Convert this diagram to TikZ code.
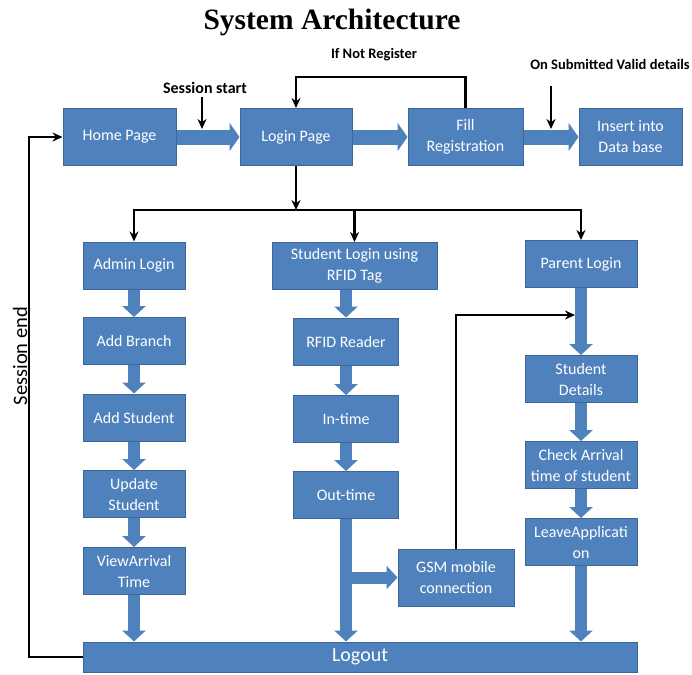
\documentclass[tikz,border=0pt]{standalone}
\usepackage{fontspec}
\setmainfont{Carlito}
\newfontfamily\titlefont{Liberation Serif}
\usetikzlibrary{arrows.meta}

\begin{document}
\begin{tikzpicture}[x=1pt,y=-1pt,
  box/.style={draw=boxline,fill=boxfill,line width=1pt,text=white,align=center,inner sep=0pt,
   font=\fontsize{16}{21}\selectfont},
  rowbox/.style={box,minimum width=113pt,minimum height=57pt},
  colbox/.style={box,minimum height=47pt},
  blk/.style={draw=boxfill,line width=12pt,-{Triangle[length=11pt,width=23pt]}},
  wideblk/.style={draw=boxfill,line width=15pt,-{Triangle[length=10pt,width=28pt]}},
  conn/.style={line width=2.2pt,-{Stealth[length=10pt,width=9pt]}},
  lbl/.style={font=\bfseries\fontsize{14.5}{17}\selectfont}]
  \definecolor{boxfill}{HTML}{4F81BD}
  \definecolor{boxline}{HTML}{3B6699}
  \fill [white] (0,0) rectangle (692,674);
  \useasboundingbox (0,0) rectangle (692,674);
  \node [font=\titlefont\bfseries\fontsize{29.5}{33}\selectfont] (title) at (332,22) {System Architecture};
  \node [lbl] (notreg) at (374,55) {If Not Register};
  \node [lbl] (valid) at (610,64) {On Submitted Valid details};
  \node [lbl,font=\bfseries\fontsize{16}{18}\selectfont] (sstart) at (205,88) {Session start};
  \node [rotate=90,font=\fontsize{20.5}{24}\selectfont] (send) at (20,356) {Session end};
  \node [rowbox] (home) at (119.5,137) {Home Page};
  \node [rowbox,minimum width=112pt] (login) at (296,137) {Login Page};
  \node [rowbox,minimum width=115pt] (fill) at (465.5,137) {Fill\\Registration};
  \node [rowbox,minimum width=103pt] (insert) at (630.5,137) {Insert into\\Data base};
  \node [colbox,minimum width=102pt] (admin) at (134,265.5) {Admin Login};
  \node [colbox,minimum width=102pt] (branch) at (134,341) {Add Branch};
  \node [colbox,minimum width=102pt] (addstu) at (134,417.5) {Add Student};
  \node [colbox,minimum width=102pt] (update) at (134,494) {Update\\Student};
  \node [colbox,minimum width=102pt] (view) at (134,571) {ViewArrival\\Time};
  \node [colbox,minimum width=165pt] (slogin) at (354.5,266) {Student Login using\\RFID Tag};
  \node [colbox,minimum width=105pt] (reader) at (346,341.5) {RFID Reader};
  \node [colbox,minimum width=105pt] (intime) at (346,419) {In-time};
  \node [colbox,minimum width=105pt] (outtime) at (346,495) {Out-time};
  \node [box,minimum width=116pt,minimum height=57pt] (gsm) at (456,577.5) {GSM mobile\\connection};
  \node [colbox,minimum width=112pt] (parent) at (581,264) {Parent Login};
  \node [colbox,minimum width=112pt] (details) at (581,379) {Student\\Details};
  \node [colbox,minimum width=112pt] (check) at (581,465) {Check Arrival\\time of student};
  \node [colbox,minimum width=112pt] (leave) at (581,542) {LeaveApplicati\\on};
  \node [box,minimum width=554pt,minimum height=30pt,font=\fontsize{20}{24}\selectfont] (logout) at (360,657) {Logout};
  \coordinate (ss) at (202,129);
  \coordinate (ot) at (551,86);
  \coordinate (ov) at (551,129);
  \coordinate (nr) at (296,77);
  \coordinate (split) at (296,210);
  \coordinate (gj) at (575,315);
  \coordinate (se) at (29,657);
  \draw [wideblk] (home) -- (login);
  \draw [wideblk] (login) -- (fill);
  \draw [wideblk] (fill) -- (insert);
  \draw [conn] (sstart.south -| ss) -- (ss);
  \draw [conn] (ot) -- (ov);
  \draw [conn] (fill) |- (nr) -- (login);
  \draw [conn] (login) -- (split);
  \draw [conn] (split) -| (admin);
  \draw [conn] (split) -| (slogin);
  \draw [conn] (split) -| (parent);
  \draw [blk] (admin) -- (branch);
  \draw [blk] (branch) -- (addstu);
  \draw [blk] (addstu) -- (update);
  \draw [blk] (update) -- (view);
  \draw [blk] (view.south) -- (view.south |- logout.north);
  \draw [blk] (reader.north |- slogin.south) -- (reader);
  \draw [blk] (reader) -- (intime);
  \draw [blk] (intime) -- (outtime);
  \draw [blk] (outtime.south) -- (outtime.south |- logout.north);
  \draw [blk] (outtime.south |- gsm.west) -- (gsm);
  \draw [blk] (parent) -- (details);
  \draw [blk] (details) -- (check);
  \draw [blk] (check) -- (leave);
  \draw [blk] (leave.south) -- (leave.south |- logout.north);
  \draw [conn] (gsm) |- (gj);
  \draw [conn] (logout) -- (se) |- (home);
\end{tikzpicture}
\end{document}
